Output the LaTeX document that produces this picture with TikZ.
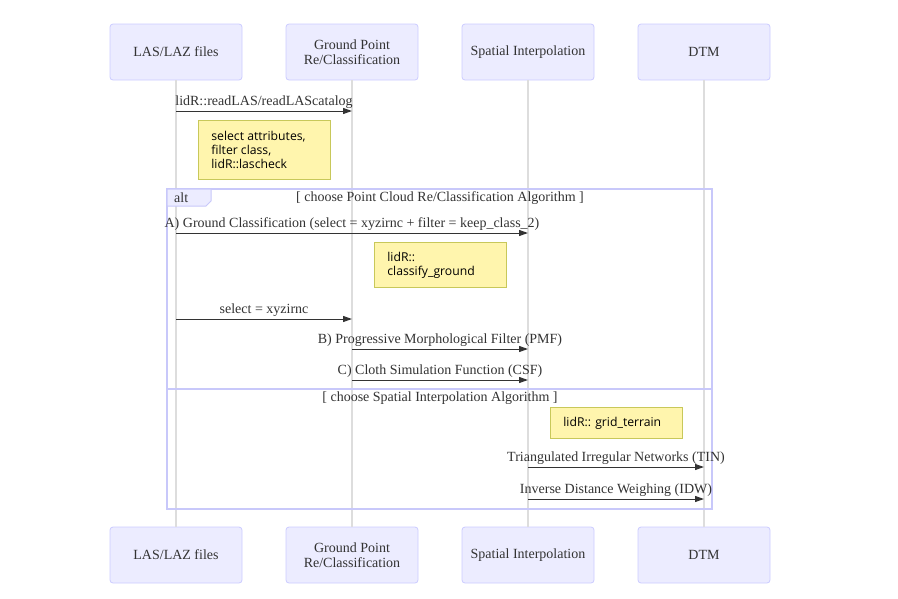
\documentclass[tikz,border=0pt]{standalone}
\usepackage{fontspec}
\setmainfont{Liberation Serif}
\newfontfamily\notefont{Open Sans}
\usetikzlibrary{arrows.meta}
\definecolor{actfill}{HTML}{ECECFF}
\definecolor{actdraw}{HTML}{CCCCFF}
\definecolor{notefill}{HTML}{FFF5AD}
\definecolor{notedraw}{HTML}{C8C85A}
\definecolor{lifegray}{HTML}{DDDDDD}
\definecolor{ink}{HTML}{333333}
\definecolor{altdraw}{HTML}{C8C8FA}
\tikzset{
  actor/.style={draw=actdraw, fill=actfill, rounded corners=3pt, minimum width=132pt, minimum height=56pt, align=center, font=\fontsize{14}{15}\selectfont, text=ink, inner sep=0pt, line width=0.8pt},
  life/.style={draw=lifegray, line width=1.2pt},
  msg/.style={draw=ink, line width=1pt, -{Triangle[length=9pt,width=6pt]}},
  lbl/.style={anchor=base, yshift=5.5pt, font=\fontsize{14}{15}\selectfont, text=ink, inner sep=0pt},
  notebox/.style={draw=notedraw, fill=notefill, line width=0.8pt, anchor=north west, minimum width=132pt, text width=106pt, inner xsep=13pt, inner ysep=0pt, align=flush left, font=\notefont\fontsize{12.2}{14}\selectfont, text=black},
  altframe/.style={draw=altdraw, line width=1.6pt},
  alttitle/.style={font=\fontsize{14}{15}\selectfont, text=ink, inner sep=0pt}
}
\begin{document}
\begin{tikzpicture}[x=1pt,y=-1pt]
\useasboundingbox (0,0) rectangle (898,598);
\fill[white] (0,0) rectangle (898,598);
% actors
\node[actor] (lasT) at (176,52) {LAS/LAZ files};
\node[actor] (gpT) at (352,52) {Ground Point\\Re/Classification};
\node[actor] (siT) at (528,52) {Spatial Interpolation};
\node[actor] (dtmT) at (704,52) {DTM};
\node[actor] (lasB) at (176,555) {LAS/LAZ files};
\node[actor] (gpB) at (352,555) {Ground Point\\Re/Classification};
\node[actor] (siB) at (528,555) {Spatial Interpolation};
\node[actor] (dtmB) at (704,555) {DTM};
% lifelines
\draw[life] (lasT.south) -- (lasB.north);
\draw[life] (gpT.south) -- (gpB.north);
\draw[life] (siT.south) -- (siB.north);
\draw[life] (dtmT.south) -- (dtmB.north);
% coordinates on lifelines
\coordinate (a1) at (176,111); \coordinate (b1) at (352,111);
\coordinate (a2) at (176,233); \coordinate (c2) at (528,233);
\coordinate (a3) at (176,319); \coordinate (b3) at (352,319);
\coordinate (b4) at (352,349); \coordinate (c4) at (528,349);
\coordinate (b5) at (352,380); \coordinate (c5) at (528,380);
\coordinate (c6) at (528,467); \coordinate (d6) at (704,467);
\coordinate (c7) at (528,499); \coordinate (d7) at (704,499);
% message 1 and note
\draw[msg] (a1) -- node[lbl]{lidR::readLAS/readLAScatalog} (b1);
\node[notebox, minimum height=59pt] (n1) at (198,120) {select attributes,\\filter class,\\lidR::lascheck};
% alt frame
\draw[altframe] (167,189) rectangle (712,509);
\draw[draw=altdraw, fill=actfill, line width=1pt] (167,189) -- (211,189) -- (211,201) -- (206,206) -- (167,206) -- cycle;
\node[alttitle, anchor=west] (altlbl) at (174,198) {alt};
\node[alttitle] (t1) at (440,198) {[ choose Point Cloud Re/Classification Algorithm ]};
\draw[msg] (a2) -- node[lbl]{A) Ground Classification (select = xyzirnc + filter = keep\_class\_2)} (c2);
\node[notebox, minimum height=45pt] (n2) at (374,242) {lidR::\\classify\_ground};
\draw[msg] (a3) -- node[lbl]{select = xyzirnc} (b3);
\draw[msg] (b4) -- node[lbl]{B) Progressive Morphological Filter (PMF)} (c4);
\draw[msg] (b5) -- node[lbl]{C) Cloth Simulation Function (CSF)} (c5);
\draw[draw=altdraw, line width=1.6pt] (167,389) -- (712,389);
\node[alttitle] (t2) at (440,398) {[ choose Spatial Interpolation Algorithm ]};
\node[notebox, minimum height=31pt] (n3) at (550,407) {lidR:: grid\_terrain};
\draw[msg] (c6) -- node[lbl]{Triangulated Irregular Networks (TIN)} (d6);
\draw[msg] (c7) -- node[lbl]{Inverse Distance Weighing (IDW)} (d7);
\end{tikzpicture}
\end{document}
